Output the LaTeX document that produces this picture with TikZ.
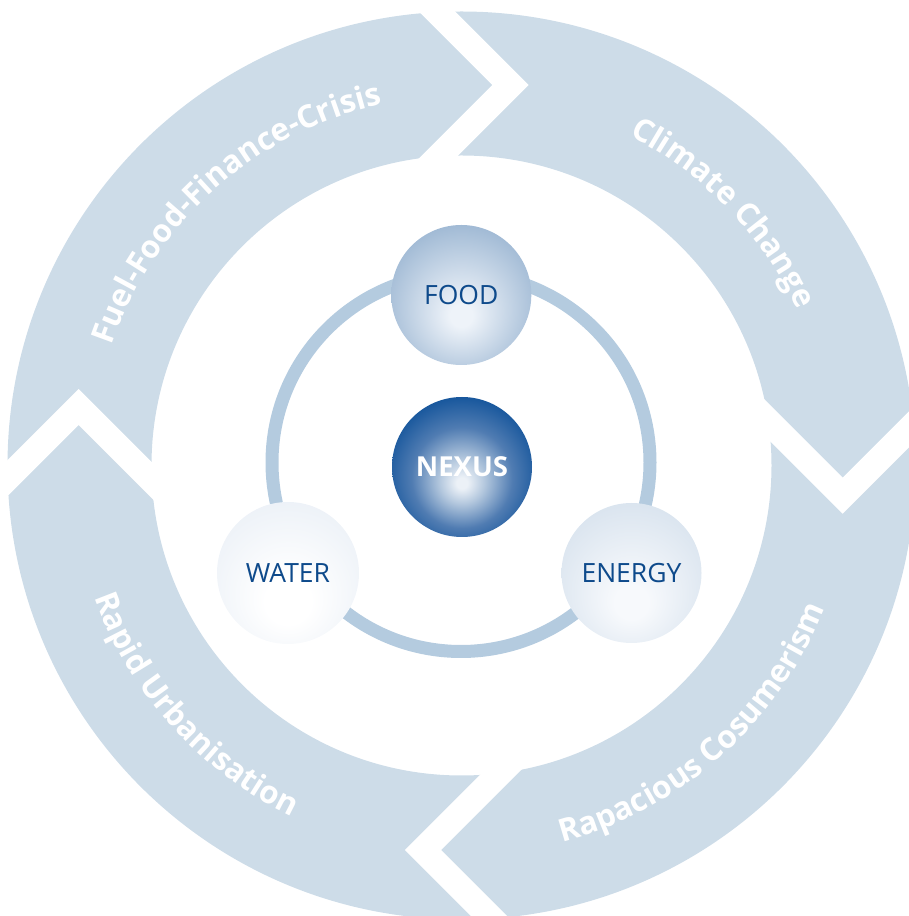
\documentclass[tikz,border=0pt]{standalone}
\usepackage{fontspec}
\setmainfont{Open Sans}
\usetikzlibrary{decorations.text}
\definecolor{band}{RGB}{205,220,232}
\definecolor{ringline}{RGB}{180,203,223}
\definecolor{txtblue}{RGB}{14,74,139}
\definecolor{foodcen}{RGB}{238,243,249}
\definecolor{foodedge}{RGB}{112,150,190}
\definecolor{nexcen}{RGB}{236,241,247}
\definecolor{nexlight}{RGB}{180,200,222}
\definecolor{nexmid}{RGB}{80,124,178}
\definecolor{nexdark}{RGB}{22,86,156}
\definecolor{nexedge}{RGB}{8,70,140}
\definecolor{watcen}{RGB}{255,255,255}
\definecolor{watedge}{RGB}{221,230,241}
\definecolor{enecen}{RGB}{247,249,252}
\definecolor{eneedge}{RGB}{194,211,228}
\pgfdeclareradialshading{foodsh}{\pgfpoint{0bp}{-8bp}}{color(0bp)=(foodcen); color(4bp)=(foodcen); color(44bp)=(foodedge); color(50bp)=(foodedge)}
\pgfdeclareradialshading{nexsh}{\pgfpoint{0bp}{-6bp}}{color(0bp)=(nexcen); color(2bp)=(nexcen); color(8bp)=(nexlight); color(18bp)=(nexmid); color(28bp)=(nexdark); color(40bp)=(nexedge); color(50bp)=(nexedge)}
\pgfdeclareradialshading{watsh}{\pgfpoint{0bp}{-12bp}}{color(0bp)=(watcen); color(8bp)=(watcen); color(50bp)=(watedge)}
\pgfdeclareradialshading{enesh}{\pgfpoint{0bp}{-12bp}}{color(0bp)=(enecen); color(6bp)=(enecen); color(50bp)=(eneedge)}
\newcommand\bandfont{\fontsize{31.5}{36}\selectfont\bfseries}
\begin{document}
\begin{tikzpicture}[x=1pt,y=1pt,
  ball/.style={circle, minimum size=140pt, inner sep=0pt, font=\fontsize{26.5}{30}\selectfont, text=txtblue},
  gapline/.style={draw=white, line width=25.5pt, miter limit=10},
  bandlabel/.style={decorate, decoration={text along path, text align=center, text color=white, text={|\bandfont|#1}}}]
\useasboundingbox (0,0) rectangle (909,916);
\coordinate (C) at (461.5,450.5);
% outer band
\fill[band, even odd rule] (C) circle[radius=454] (C) circle[radius=310];
% chevron gaps
\coordinate (gt) at (510.5,831);
\coordinate (gr) at (842.7,420.3);
\coordinate (gb) at (423,66);
\coordinate (gl) at (78.7,509);
\draw[gapline] (gt) ++(-110,110) -- (gt) -- ++(-110,-110);
\draw[gapline] (gr) ++(-110,110) -- (gr) -- ++(110,110);
\draw[gapline] (gb) ++(110,110) -- (gb) -- ++(110,-110);
\draw[gapline] (gl) ++(-110,-110) -- (gl) -- ++(110,-110);
% band labels
\begin{scope}[shift={(C)}]
\path[bandlabel={Fuel-Food-Finance-Crisis}] (176.75:370) arc[start angle=176.75, end angle=86.75, radius=370];
\path[bandlabel={Climate Change}] (84:370) arc[start angle=84, end angle=4, radius=370];
\path[bandlabel={Rapacious Cosumerism}] (-88.25:390) arc[start angle=-88.25, end angle=-8.25, radius=390];
\path[bandlabel={Rapid Urbanisation}] (182:390) arc[start angle=182, end angle=262, radius=390];
\end{scope}
% inner ring
\draw[ringline, line width=13pt] (461,453.5) circle[radius=189];
% balls
\node[ball, shading=foodsh] (food) at (461.3,621) {FOOD};
\node[ball, shading=nexsh, text=white, font=\fontsize{27.5}{30}\selectfont\bfseries] (nexus) at (462,449) {NEXUS};
\node[ball, shading=watsh, minimum size=142pt] (water) at (288,343) {WATER};
\node[ball, shading=enesh] (energy) at (631.5,343) {ENERGY};
\end{tikzpicture}
\end{document}
